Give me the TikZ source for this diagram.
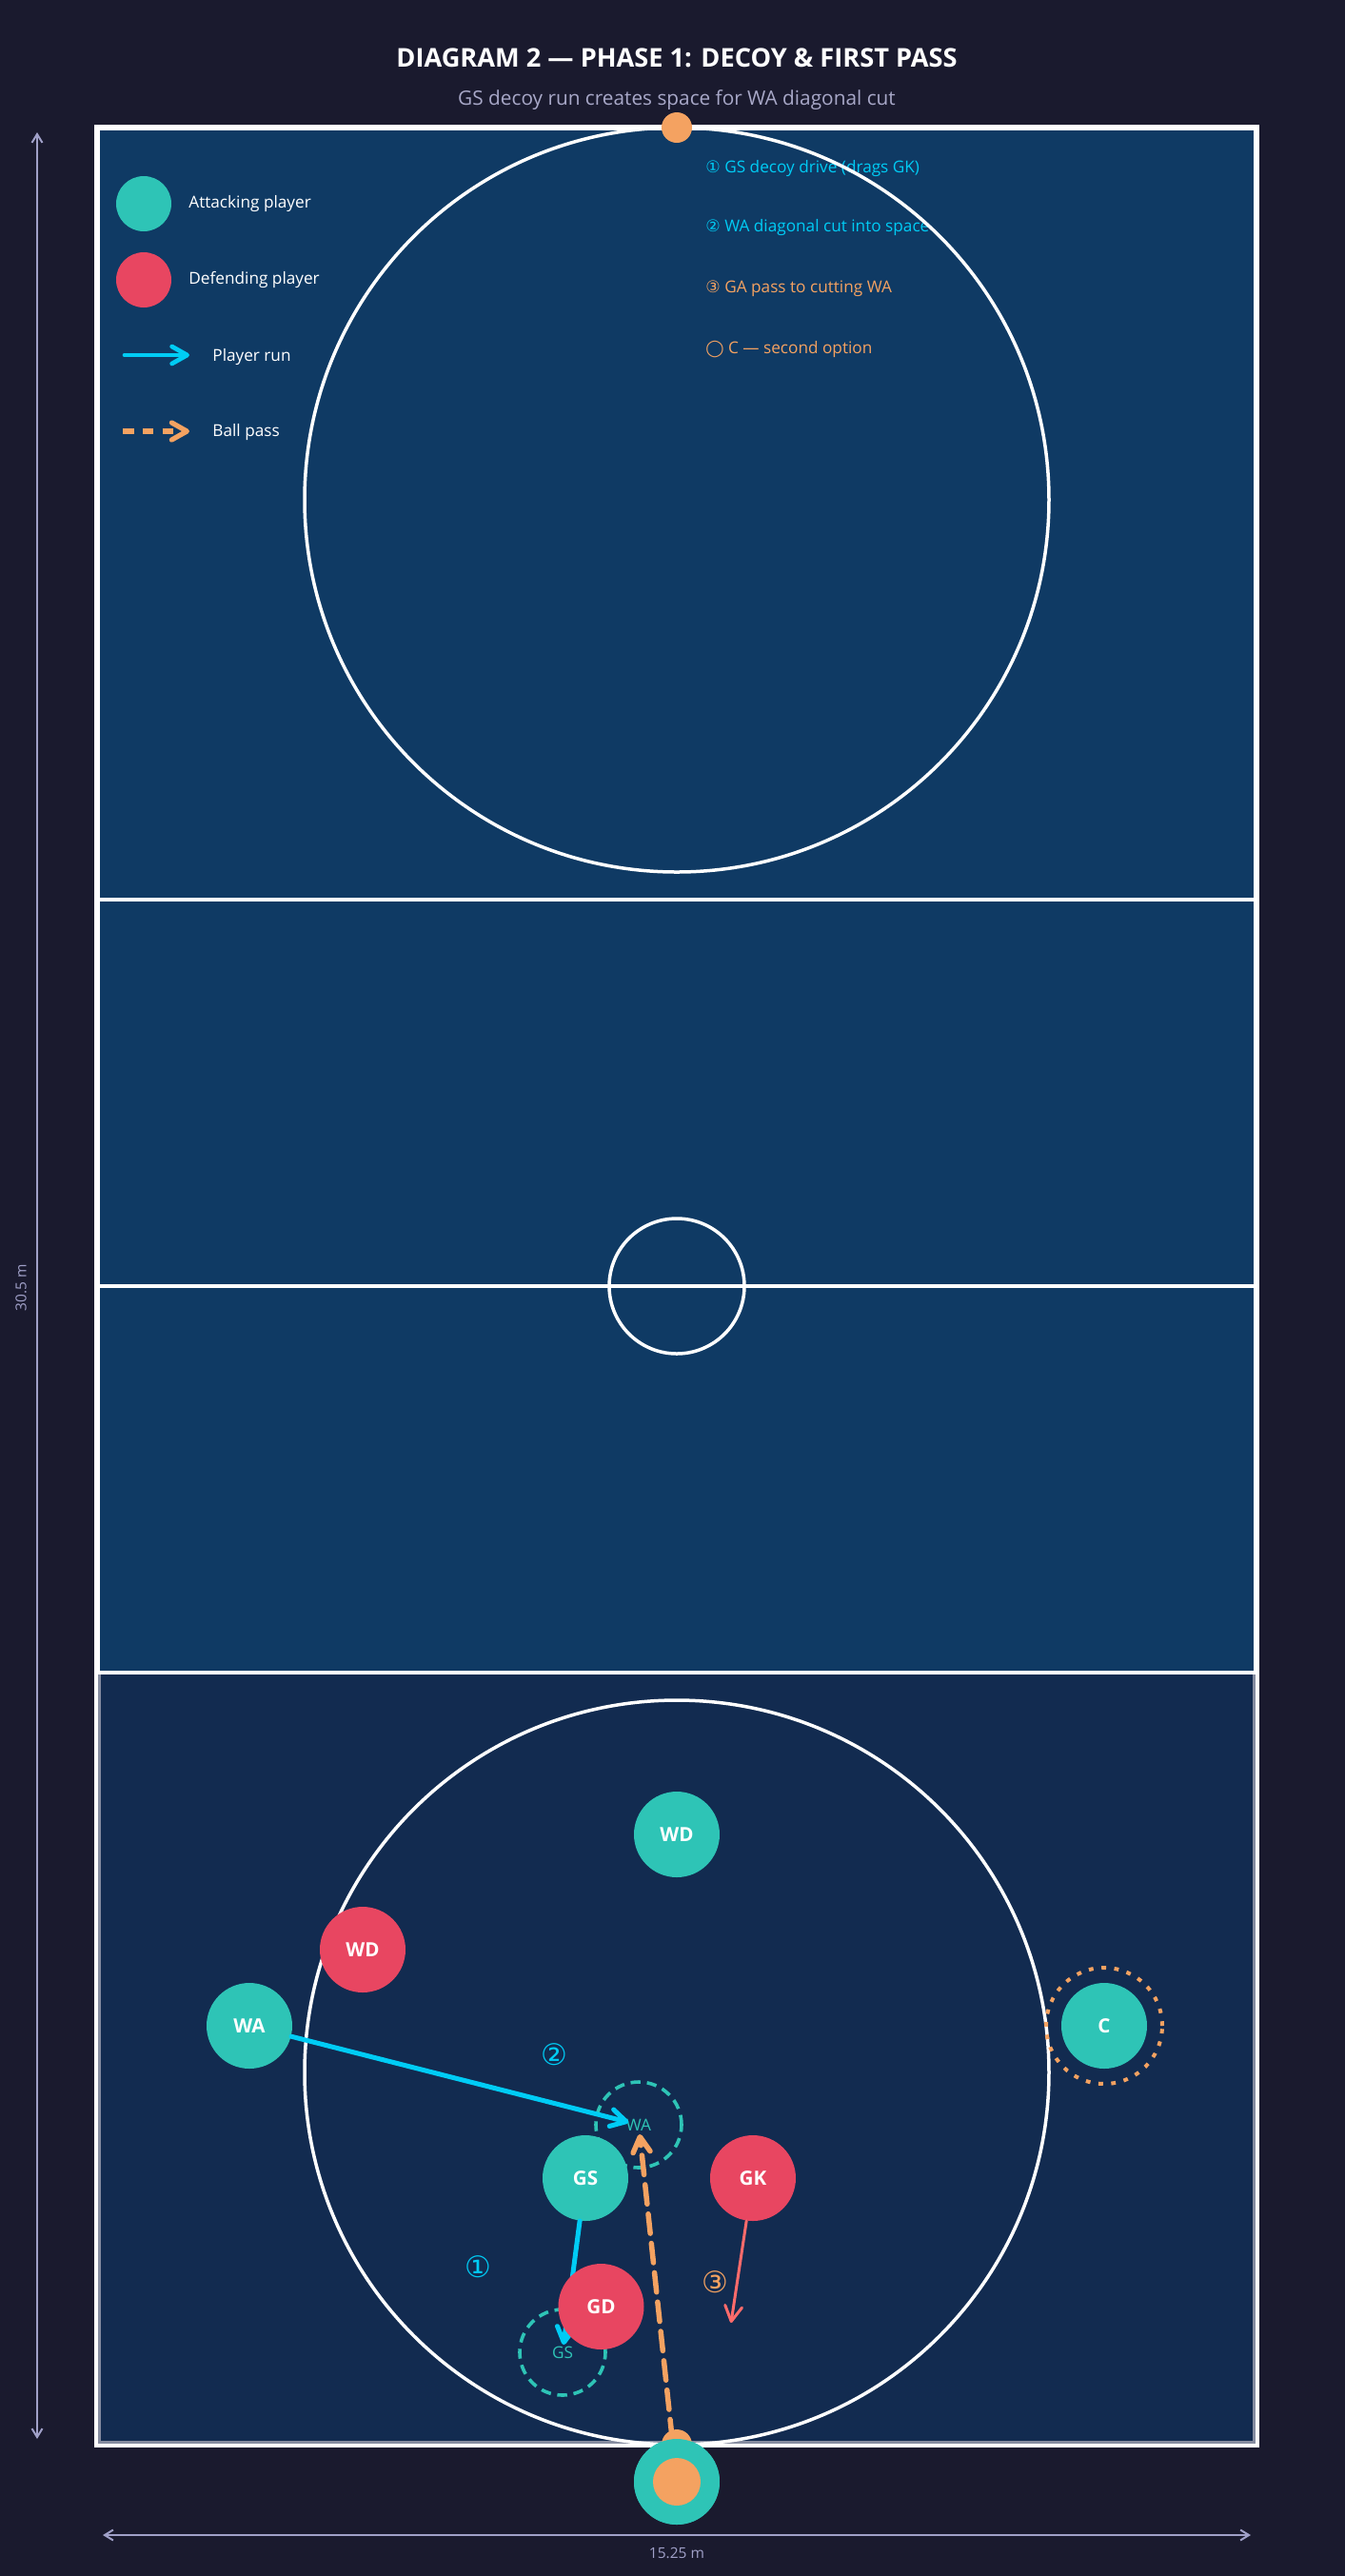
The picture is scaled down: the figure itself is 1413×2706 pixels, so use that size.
\documentclass[tikz,border=0pt]{standalone}
\usepackage{fontspec}
\setmainfont{Open Sans}
\newfontfamily\symf{DejaVu Sans}
\usetikzlibrary{arrows.meta}
\definecolor{bgc}{HTML}{1A1A2E}
\definecolor{courtc}{HTML}{0F3A64}
\definecolor{thirdc}{HTML}{122B50}
\definecolor{edgec}{HTML}{858CA0}
\definecolor{attc}{HTML}{2EC4B6}
\definecolor{defc}{HTML}{E84661}
\definecolor{runc}{HTML}{00CCF5}
\definecolor{passc}{HTML}{F4A261}
\definecolor{gkc}{HTML}{FF6B6B}
\definecolor{dimc}{HTML}{A0A0C8}
\definecolor{subc}{HTML}{A8A8C8}
\tikzset{
  courtline/.style={draw=white, line width=2pt},
  circline/.style={draw=white, line width=1.75pt},
  player/.style={circle, minimum size=45pt, inner sep=0pt, text=white,
    font=\fontsize{10.3pt}{12pt}\selectfont\bfseries},
  att/.style={player, fill=attc},
  dfd/.style={player, fill=defc},
  ghost/.style={circle, minimum size=45pt, inner sep=0pt, draw=attc, line width=1.8pt,
    dash pattern=on 5.2pt off 3.4pt, text=attc, font=\fontsize{8.6pt}{10pt}\selectfont},
  barb/.style={-{Straight Barb[length=8pt,width=9pt,round]}},
  runarrow/.style={draw=runc, line width=2.5pt, line cap=round, barb},
  passarrow/.style={draw=passc, line width=2.75pt, line cap=round,
    dash pattern=on 10.25pt off 5.25pt, barb},
  gkarrow/.style={draw=gkc, line width=1.5pt, line cap=round, barb},
  legtext/.style={anchor=base west, inner sep=0pt, text=white, font=\fontsize{8.6pt}{10pt}\selectfont},
  annot/.style={anchor=base west, inner sep=0pt, font=\fontsize{8.6pt}{10pt}\selectfont},
  numlabel/.style={inner sep=0pt, font=\fontsize{15.5pt}{17pt}\symf},
  dimline/.style={draw=dimc, line width=1pt},
  dimtext/.style={inner sep=0pt, text=dimc, font=\fontsize{7.75pt}{9pt}\selectfont},
  post/.style={circle, fill=passc, minimum size=16pt, inner sep=0pt}
}
\begin{document}
\begin{tikzpicture}[x=0.5pt,y=-0.5pt]
\useasboundingbox (0,0) rectangle (1413,2706);
\fill[bgc] (0,0) rectangle (1413,2706);
% court
\fill[courtc] (102,134) rectangle (1320,2568);
\draw[draw=white, line width=3pt] (102,134) rectangle (1320,2568);
\filldraw[fill=thirdc, draw=edgec, line width=1.5pt] (104.5,1756.7) rectangle (1317.5,2565.5);
% annotations (under court lines)
\node[annot, text=runc] (a1) at (741,181) {{\symf ①} GS decoy drive (drags GK)};
\node[annot, text=runc] (a2) at (741,243.3) {{\symf ②} WA diagonal cut into space};
\node[annot, text=passc] (a3) at (741,307.3) {{\symf ③} GA pass to cutting WA};
\node[annot, text=passc] (a4) at (741,371) {{\symf ◯} C — second option};
% court lines
\draw[courtline] (102,945.3) -- (1320,945.3);
\draw[courtline] (102,1351) -- (1320,1351);
\draw[courtline] (102,1756.7) -- (1320,1756.7);
\draw[circline] (711,1351) circle[radius=35.5pt];
\draw[circline] (711,525) circle[radius=195.5pt];
\draw[circline] (711,2177) circle[radius=195.5pt];
% legend
\node[circle, fill=attc, minimum size=29pt, inner sep=0pt] (legA) at (151,214) {};
\node[legtext] (legAt) at (198,218.3) {Attacking player};
\node[circle, fill=defc, minimum size=29pt, inner sep=0pt] (legD) at (151,294) {};
\node[legtext] (legDt) at (198,298.3) {Defending player};
\coordinate (lr1) at (131,373);
\coordinate (lr2) at (199,373);
\draw[runarrow, line width=2.35pt] (lr1) -- (lr2);
\node[legtext] (legRt) at (223,379) {Player run};
\coordinate (lp1) at (129,453);
\coordinate (lp2) at (199,453);
\draw[passarrow, line width=2.6pt, line cap=butt, dash pattern=on 5.8pt off 4.6pt] (lp1) -- (lp2);
\node[legtext] (legPt) at (223,458) {Ball pass};
% ghosts
\node[ghost] (gWA) at (671,2232) {WA};
\node[ghost] (gGS) at (591,2471) {GS};
\coordinate (gkend) at (768,2440);
% players that arrows start from
\node[att] (WA) at (262,2128) {WA};
\node[att] (GS) at (615,2288) {GS};
\node[dfd] (GK) at (791,2288) {GK};
\node[att, draw=none] (GA) at (711,2607) {};
% arrows
\draw[runarrow, shorten >=5.5pt] (WA) -- (gWA.center);
\draw[runarrow, shorten >=4pt] (GS) -- (gGS.center);
\draw[gkarrow] (GK) -- (gkend);
\draw[passarrow, shorten >=5pt] (GA) -- (gWA.center);
% posts
\node[post] (topPost) at (711,134) {};
\node[post] (botPost) at (711,2568) {};
% other players
\node[att] (WDa) at (711,1927) {WD};
\node[dfd] (WDd) at (381,2048) {WD};
\node[dfd] (GD) at (631.5,2423) {GD};
\node[att] (C) at (1160,2128) {C};
\draw[draw=passc, line width=2pt, dash pattern=on 2.4pt off 4.3pt] (C) circle[radius=30.5pt];
\node[att] (GA2) at (711,2607) {};
\node[circle, fill=passc, minimum size=25pt, inner sep=0pt] (ball) at (711,2607) {};
% numbers
\node[numlabel, text=runc] (n1) at (502,2381) {①};
\node[numlabel, text=runc] (n2) at (582,2158) {②};
\node[numlabel, text=passc] (n3) at (751,2397) {③};
% dimensions
\coordinate (vt) at (39,139);
\coordinate (vb) at (39,2562);
\draw[dimline, {Straight Barb[length=4.5pt,width=5.5pt]}-{Straight Barb[length=4.5pt,width=5.5pt]}] (vt) -- (vb);
\node[dimtext, rotate=90] (vlab) at (22,1353) {30.5 m};
\coordinate (hl) at (108,2663);
\coordinate (hr) at (1314,2663);
\draw[dimline, {Straight Barb[length=4.5pt,width=5.5pt]}-{Straight Barb[length=4.5pt,width=5.5pt]}] (hl) -- (hr);
\node[dimtext, anchor=base] (hlab) at (711,2687) {15.25 m};
% titles
\node[inner sep=0pt, text=white, font=\fontsize{13.6pt}{16pt}\selectfont\bfseries] (title) at (711,60.5) {DIAGRAM 2 — PHASE 1: DECOY \& FIRST PASS};
\node[inner sep=0pt, anchor=base, text=subc, font=\fontsize{10.4pt}{12pt}\selectfont] (sub) at (711,110.7) {GS decoy run creates space for WA diagonal cut};
\end{tikzpicture}
\end{document}
